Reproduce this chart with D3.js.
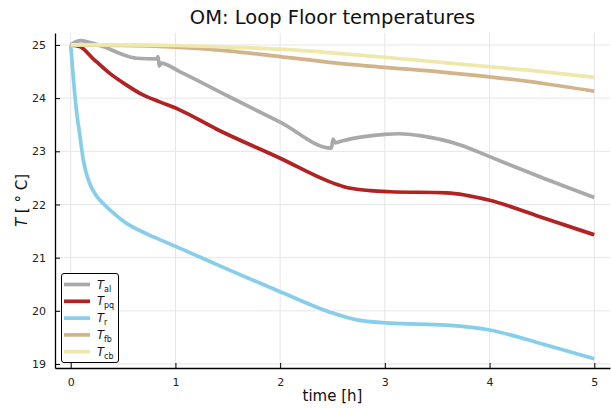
<!DOCTYPE html>
<html>
<head>
<meta charset="utf-8">
<script src="https://cdn.jsdelivr.net/npm/d3@7"></script>
<style>
  html, body { margin: 0; padding: 0; background: #fff; }
  svg { display: block; font-family: "DejaVu Sans", sans-serif; }
</style>
</head>
<body>
<svg id="chart" width="611" height="408"></svg>
<script>
// Loop floor temperature traces, time in hours, temperature in °C
const seriesNames = ["al", "pq", "r", "fb", "cb"];
const seriesColors = ["#a9a9a9", "#b22222", "#87ceeb", "#d2b48c", "#eee8aa"];

const tAl = [0, 0.05, 0.1, 0.21, 0.31, 0.47, 0.63, 0.82, 0.835, 0.845, 0.86, 1.04, 1.5, 2.0, 2.49, 2.505, 2.525, 2.6, 2.82, 3.0, 3.14, 3.35, 3.72, 4.0, 4.48, 5.0];
const vAl = [25.0, 25.06, 25.08, 25.03, 24.97, 24.84, 24.75, 24.74, 24.78, 24.6, 24.66, 24.5, 24.04, 23.55, 23.06, 23.23, 23.16, 23.2, 23.28, 23.32, 23.33, 23.29, 23.12, 22.9, 22.52, 22.13];

const tPq = [0, 0.086, 0.21, 0.37, 0.53, 0.69, 0.85, 1.04, 1.39, 2.0, 2.47, 2.6, 2.86, 3.05, 3.59, 4.0, 4.48, 5.0];
const vPq = [25.0, 24.97, 24.75, 24.47, 24.25, 24.06, 23.93, 23.78, 23.42, 22.87, 22.43, 22.34, 22.26, 22.24, 22.22, 22.08, 21.77, 21.43];

const tR = [0, 0.02, 0.04, 0.06, 0.086, 0.12, 0.18, 0.25, 0.31, 0.42, 0.53, 0.65, 0.79, 1.04, 1.5, 2.0, 2.47, 2.73, 3.05, 3.59, 4.0, 4.48, 5.0];
const vR = [25.0, 24.5, 24.05, 23.68, 23.32, 22.84, 22.4, 22.15, 22.02, 21.82, 21.65, 21.52, 21.39, 21.18, 20.78, 20.36, 19.98, 19.83, 19.77, 19.73, 19.64, 19.39, 19.1];

const tFb = [0, 0.5, 1.0, 1.5, 2.0, 2.54, 3.05, 3.5, 4.0, 4.5, 5.0];
const vFb = [25.0, 24.99, 24.96, 24.89, 24.78, 24.66, 24.57, 24.5, 24.4, 24.28, 24.13];

const tCb = [0, 0.5, 1.0, 1.5, 2.0, 2.5, 3.05, 3.5, 4.0, 4.5, 5.0];
const vCb = [25.0, 25.0, 24.99, 24.96, 24.92, 24.85, 24.76, 24.68, 24.59, 24.5, 24.39];

const xTicks = [0, 1, 2, 3, 4, 5];
const yTicks = [19, 20, 21, 22, 23, 24, 25];

const series = [
  { name: seriesNames[0], color: seriesColors[0], t: tAl, v: vAl },
  { name: seriesNames[1], color: seriesColors[1], t: tPq, v: vPq },
  { name: seriesNames[2], color: seriesColors[2], t: tR, v: vR },
  { name: seriesNames[3], color: seriesColors[3], t: tFb, v: vFb },
  { name: seriesNames[4], color: seriesColors[4], t: tCb, v: vCb }
];

const svg = d3.select("#chart");
const plot = { left: 55, right: 610, top: 33, bottom: 368 };

const x = d3.scaleLinear().domain([-0.15, 5.15]).range([plot.left, plot.right]);
const y = d3.scaleLinear().domain([18.925, 25.225]).range([plot.bottom, plot.top]);

// grid
const grid = svg.append("g").attr("stroke", "#e6e6e6").attr("stroke-width", 1);
xTicks.forEach(d => grid.append("line")
  .attr("x1", x(d)).attr("x2", x(d)).attr("y1", plot.top).attr("y2", plot.bottom));
yTicks.forEach(d => grid.append("line")
  .attr("x1", plot.left).attr("x2", plot.right).attr("y1", y(d)).attr("y2", y(d)));

// axes with inward ticks
const xAxis = d3.axisBottom(x).tickValues(xTicks).tickFormat(d3.format("d"))
  .tickSizeInner(-5).tickSizeOuter(0).tickPadding(10);
const yAxis = d3.axisLeft(y).tickValues(yTicks).tickFormat(d3.format("d"))
  .tickSizeInner(-5).tickSizeOuter(0).tickPadding(9);

const gx = svg.append("g").attr("transform", `translate(0,${plot.bottom})`).call(xAxis);
const gy = svg.append("g").attr("transform", `translate(${plot.left},0)`).call(yAxis);
[gx, gy].forEach(g => {
  g.select(".domain").attr("stroke", "#000").attr("stroke-width", 1.3);
  g.selectAll(".tick line").attr("stroke", "#000").attr("stroke-width", 1);
  g.selectAll(".tick text").attr("fill", "#222").style("font-size", "11px")
    .style("font-family", "DejaVu Sans, sans-serif");
});

// lines
const line = d3.line().curve(d3.curveMonotoneX);
const lines = svg.append("g").attr("fill", "none").attr("stroke-width", 3.7)
  .attr("stroke-linejoin", "round").attr("stroke-linecap", "butt");
series.forEach(s => {
  lines.append("path")
    .attr("stroke", s.color)
    .attr("d", line(s.t.map((t, i) => [x(t), y(s.v[i])])));
});

// title and axis labels
svg.append("text").attr("x", (plot.left + plot.right) / 2).attr("y", 24)
  .attr("text-anchor", "middle").style("font-size", "19.5px").attr("fill", "#111")
  .text("OM: Loop Floor temperatures");

svg.append("text").attr("x", (plot.left + plot.right) / 2).attr("y", 401)
  .attr("text-anchor", "middle").style("font-size", "15px").attr("fill", "#111")
  .text("time [h]");

const yl = svg.append("text")
  .attr("transform", `translate(27,${(plot.top + plot.bottom) / 2}) rotate(-90)`)
  .attr("text-anchor", "middle").style("font-size", "15px").attr("fill", "#111");
yl.append("tspan").style("font-style", "italic").text("T");
yl.append("tspan").text(" [ ° C]");

// legend
const lg = svg.append("g");
lg.append("rect").attr("x", 61.5).attr("y", 273.5).attr("width", 57).attr("height", 89)
  .attr("rx", 2.5).attr("fill", "#fff").attr("stroke", "#000").attr("stroke-width", 1);
series.forEach((s, i) => {
  const yy = 284.5 + i * 16.8;
  lg.append("line").attr("x1", 64).attr("x2", 90).attr("y1", yy).attr("y2", yy)
    .attr("stroke", s.color).attr("stroke-width", 3.7);
  const t = lg.append("text").attr("x", 97).attr("y", yy + 4).attr("fill", "#111")
    .style("font-size", "11.5px");
  t.append("tspan").style("font-style", "italic").text("T");
  t.append("tspan").attr("dy", 3).style("font-size", "8px").text(s.name);
});
</script>
</body>
</html>
